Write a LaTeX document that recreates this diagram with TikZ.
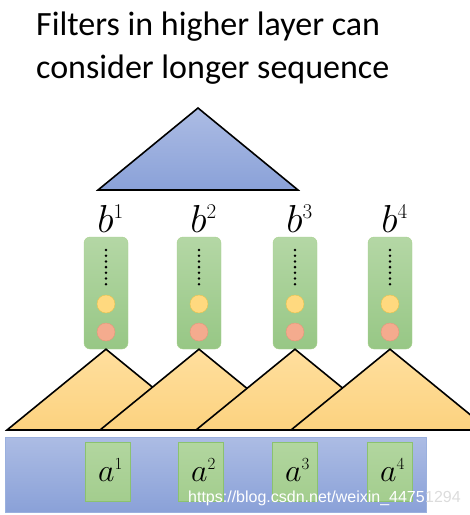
\RequirePackage{fix-cm}
\documentclass[tikz,border=0pt]{standalone}
\usepackage{fontspec}
\setmainfont{Carlito}
\newfontfamily\urlfont{Liberation Sans}
\usetikzlibrary{positioning}
\definecolor{bluetop}{HTML}{ACBCE4}
\definecolor{bluebot}{HTML}{8AA1D8}
\definecolor{blueline}{HTML}{9AB0DE}
\definecolor{celltop}{HTML}{B4D7A5}
\definecolor{cellbot}{HTML}{97C785}
\definecolor{cellline}{HTML}{A9D18E}
\definecolor{intop}{HTML}{B2D69F}
\definecolor{inbot}{HTML}{A3CD8E}
\definecolor{inline}{HTML}{8BC26F}
\definecolor{yelfill}{HTML}{FFD97F}
\definecolor{yelline}{HTML}{EBC24A}
\definecolor{redfill}{HTML}{F4AB8E}
\definecolor{redline}{HTML}{E8957A}
\definecolor{tritop}{HTML}{FFDF9E}
\definecolor{tribot}{HTML}{FCD27F}
\definecolor{marktext}{HTML}{DCDCDC}
\newcommand{\supidx}[2]{^{\mbox{\fontsize{#1}{#1}\selectfont$#2$}}}
\begin{document}
\begin{tikzpicture}[x=1pt,y=-1pt,
    title/.style={anchor=base west, inner sep=0pt, font=\fontsize{34}{40}\selectfont},
    cell/.style={draw=cellline, top color=celltop, bottom color=cellbot, rounded corners=6pt,
      minimum width=44pt, minimum height=112pt, inner sep=0pt},
    yel/.style={circle, draw=yelline, fill=yelfill, minimum size=18pt, inner sep=0pt},
    red/.style={circle, draw=redline, fill=redfill, minimum size=18pt, inner sep=0pt},
    blabel/.style={inner sep=0pt, font=\fontsize{39}{39}\selectfont},
    filt/.style={draw=black, line width=1.6pt, top color=tritop, bottom color=tribot},
    inbox/.style={draw=inline, top color=intop, bottom color=inbot, minimum width=45pt,
      minimum height=59pt, inner sep=0pt},
    alabel/.style={anchor=base, inner sep=0pt, font=\fontsize{32}{32}\selectfont},
    wmark/.style={anchor=base west, inner sep=0pt, font=\urlfont\fontsize{16}{16}\selectfont}]
  \useasboundingbox (0,0) rectangle (470,515);
  \clip (0,0) rectangle (470,515);
  \node[title] (t1) at (36,35) {Filters in higher layer can};
  \node[title] (t2) at (36,78) {consider longer sequence};
  % higher layer filter
  \draw[line width=1.6pt, top color=bluetop, bottom color=bluebot] (98,190) -- (198,108) -- (298,190) -- cycle;
  % first layer outputs
  \foreach \x [count=\i] in {106,199,295,390} {
    \node[cell] (cell\i) at (\x,293) {};
    \node[blabel, above=4pt of cell\i, xshift=4.5pt] (b\i) {$b\supidx{21}{\i}$};
    \foreach \k in {0,...,6}
      \fill (\x,{250+5.7*\k}) circle (1.4);
    \node[yel] (y\i) at (\x,304) {};
    \node[red] (r\i) at (\x,332) {};
  }
  % first layer filters
  \foreach \x [count=\i] in {106,199,295,390}
    \draw[filt] (\x-99,430) -- (cell\i.south) -- (\x+99,430) -- cycle;
  % input sequence
  \node[draw=blueline, top color=bluetop, bottom color=bluebot, minimum width=421pt,
    minimum height=75pt, inner sep=0pt] (seq) at (215.5,474.5) {};
  \foreach \x [count=\i] in {107.5,200.5,294.5,389.5} {
    \node[inbox] (in\i) at (\x,471.5) {};
    \node[alabel] (a\i) at (\x+3,481) {$a\supidx{17}{\i}$};
  }
  % watermark
  \node[wmark, text=white] (mark1) at (188,502) {https://blog.csdn.net/weixin\_4475};
  \node[wmark, text=marktext] (mark2) at (mark1.base east) {1294};
\end{tikzpicture}
\end{document}
